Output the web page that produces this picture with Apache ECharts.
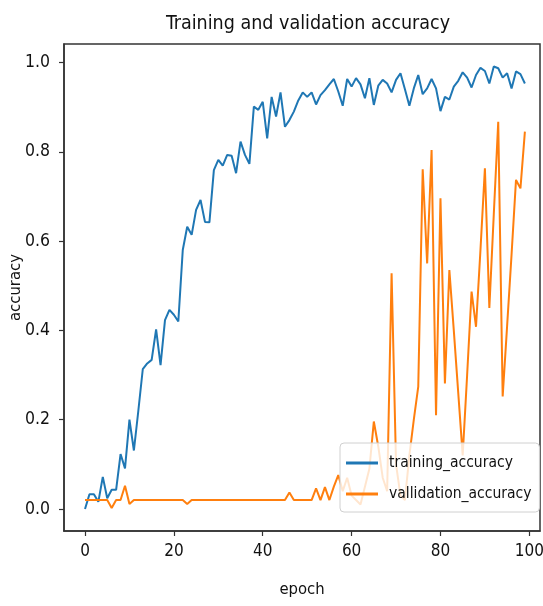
<!DOCTYPE html>
<html>
<head>
<meta charset="utf-8">
<script src="https://cdn.jsdelivr.net/npm/echarts@6/dist/echarts.min.js"></script>
<style>html,body{margin:0;padding:0;background:#fff}#c{width:543px;height:606px}</style>
</head>
<body>
<div id="c"></div>
<script>
const epochs = Array.from({length: 100}, (_, i) => i);
const trainingAccuracy = [
  0.0, 0.033, 0.033, 0.016, 0.072, 0.024, 0.043, 0.043, 0.123, 0.091,
  0.2, 0.131, 0.22, 0.313, 0.326, 0.334, 0.402, 0.322, 0.423, 0.446,
  0.435, 0.42, 0.58, 0.632, 0.614, 0.67, 0.692, 0.643, 0.642, 0.759,
  0.782, 0.769, 0.793, 0.791, 0.752, 0.823, 0.793, 0.773, 0.901, 0.894,
  0.912, 0.83, 0.923, 0.879, 0.933, 0.856, 0.871, 0.89, 0.915, 0.933,
  0.923, 0.933, 0.906, 0.927, 0.938, 0.951, 0.963, 0.935, 0.903, 0.963,
  0.946, 0.965, 0.951, 0.92, 0.965, 0.905, 0.948, 0.961, 0.953, 0.933,
  0.961, 0.976, 0.94, 0.903, 0.942, 0.972, 0.929, 0.942, 0.963, 0.942,
  0.891, 0.923, 0.917, 0.946, 0.959, 0.978, 0.966, 0.944, 0.972, 0.988,
  0.981, 0.953, 0.991, 0.987, 0.966, 0.976, 0.942, 0.98, 0.974, 0.953
];
const validationAccuracy = [
  0.02, 0.02, 0.02, 0.02, 0.02, 0.02, 0.002, 0.02, 0.02, 0.052,
  0.011, 0.02, 0.02, 0.02, 0.02, 0.02, 0.02, 0.02, 0.02, 0.02,
  0.02, 0.02, 0.02, 0.011, 0.02, 0.02, 0.02, 0.02, 0.02, 0.02,
  0.02, 0.02, 0.02, 0.02, 0.02, 0.02, 0.02, 0.02, 0.02, 0.02,
  0.02, 0.02, 0.02, 0.02, 0.02, 0.02, 0.037, 0.02, 0.02, 0.02,
  0.02, 0.02, 0.046, 0.02, 0.049, 0.02, 0.05, 0.076, 0.04, 0.07,
  0.03, 0.02, 0.01, 0.05, 0.09, 0.196, 0.14, 0.07, 0.04, 0.528,
  0.1, 0.03, 0.02, 0.12, 0.2, 0.274, 0.761, 0.55, 0.804, 0.21,
  0.696, 0.281, 0.535, 0.4, 0.26, 0.12, 0.3, 0.487, 0.408, 0.58,
  0.763, 0.45, 0.66, 0.867, 0.252, 0.41, 0.57, 0.737, 0.718, 0.845
];
const xTicks = [0, 20, 40, 60, 80, 100];
const yTicks = [0.0, 0.2, 0.4, 0.6, 0.8, 1.0];
const seriesNames = ['training_accuracy', 'vallidation_accuracy'];
const titleText = 'Training and validation accuracy';

const FONT = "'DejaVu Sans Condensed', 'DejaVu Sans', sans-serif";
const chart = echarts.init(document.getElementById('c'), null, {renderer: 'canvas'});
const axisCol = '#333';
chart.setOption({
  animation: false,
  backgroundColor: '#fff',
  title: {
    text: titleText, left: 303, top: 9, textAlign: 'center',
    textStyle: {fontFamily: FONT, fontSize: 19.5, fontWeight: 'normal', color: '#111'}
  },
  grid: {left: 64, right: 3, top: 44, bottom: 75, show: true, borderColor: axisCol, borderWidth: 1.5, backgroundColor: 'transparent', containLabel: false, outerBoundsMode: 'none'},
  legend: {
    orient: 'vertical', left: 340, top: 443,
    padding: [12, 8, 10, 6], itemGap: 15, itemWidth: 32, itemHeight: 3,
    icon: 'rect',
    backgroundColor: 'rgba(255,255,255,0.8)', borderColor: '#d0d0d0', borderWidth: 1, borderRadius: 4,
    textStyle: {fontFamily: FONT, fontSize: 15.5, color: '#111', padding: [0, 0, 0, 6]},
    data: seriesNames
  },
  xAxis: {
    type: 'value', min: -4.73, max: 102.4,
    name: 'epoch', nameLocation: 'middle', nameGap: 50, nameMoveOverlap: false,
    nameTextStyle: {fontFamily: FONT, fontSize: 16.5, color: '#111'},
    splitLine: {show: false},
    axisLine: {show: true, onZero: false, lineStyle: {color: axisCol, width: 1.5}},
    axisTick: {show: true, inside: false, length: 5, lineStyle: {color: axisCol, width: 1.2}, customValues: xTicks},
    axisLabel: {fontFamily: FONT, fontSize: 17, color: '#111', margin: 12, customValues: xTicks, formatter: v => String(v)}
  },
  yAxis: {
    type: 'value', min: -0.0493, max: 1.0414,
    name: 'accuracy', nameLocation: 'middle', nameGap: 40, nameRotate: 90, nameMoveOverlap: false,
    nameTextStyle: {fontFamily: FONT, fontSize: 16.5, color: '#111'},
    splitLine: {show: false},
    axisLine: {show: true, onZero: false, lineStyle: {color: axisCol, width: 1.5}},
    axisTick: {show: true, inside: false, length: 5, lineStyle: {color: axisCol, width: 1.2}, customValues: yTicks},
    axisLabel: {fontFamily: FONT, fontSize: 17.5, color: '#111', margin: 14, customValues: yTicks, formatter: v => v.toFixed(1)}
  },
  series: [
    {
      name: seriesNames[0], type: 'line', showSymbol: false, symbol: 'none',
      data: epochs.map((e, i) => [e, trainingAccuracy[i]]),
      lineStyle: {color: '#1f77b4', width: 2}, itemStyle: {color: '#1f77b4'}, z: 2
    },
    {
      name: seriesNames[1], type: 'line', showSymbol: false, symbol: 'none',
      data: epochs.map((e, i) => [e, validationAccuracy[i]]),
      lineStyle: {color: '#ff7f0e', width: 2}, itemStyle: {color: '#ff7f0e'}, z: 3
    }
  ]
});
</script>
</body>
</html>
